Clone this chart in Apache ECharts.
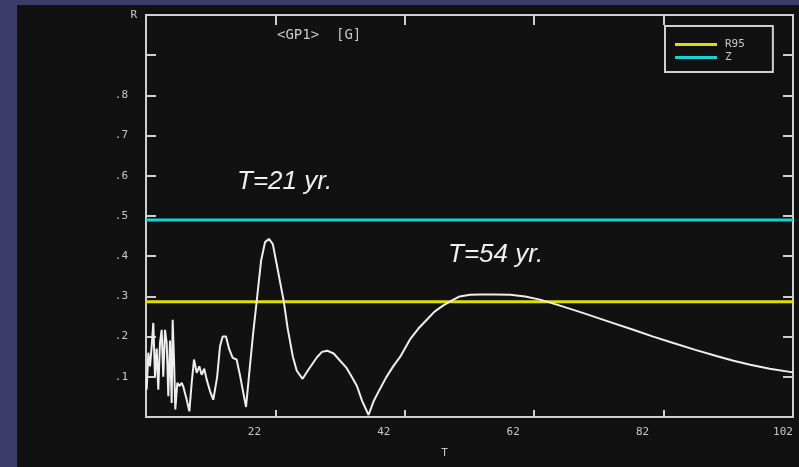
<!DOCTYPE html>
<html><head><meta charset="utf-8">
<script src="https://cdn.jsdelivr.net/npm/echarts@6/dist/echarts.min.js"></script>
<style>
html,body{margin:0;padding:0;width:799px;height:467px;background:#3b3c68;overflow:hidden}
#c{position:absolute;left:17px;top:5px;width:782px;height:462px}
</style></head><body><div id="c"></div>
<script>
// Period T (years) and coherence R of the main curve
const periodT = [2.1,2.36,2.62,2.88,3.13,3.39,3.65,3.9,4.16,4.42,4.67,4.94,5.2,5.45,5.71,5.97,6.12,6.33,6.53,6.84,7.15,7.52,7.77,8.29,8.7,9.06,9.42,9.84,10.24,10.6,11.0,11.38,11.9,12.4,13.0,13.44,13.85,14.36,14.87,15.4,16.0,16.5,17.04,17.46,18.07,18.54,19.1,19.8,20.4,21.0,21.6,22.2,23.3,23.9,24.7,25.3,26.2,27.2,28.4,29.2,30.0,31.0,32.0,33.0,33.8,34.6,35.4,36.4,37.2,38.1,39.1,40.2,41.3,42.8,44.1,45.4,46.6,47.9,49.3,50.5,52.1,53.6,55.9,58.3,60.6,62.9,66.0,69.5,73.4,77.3,80.4,83.5,86.9,90.3,92.8,95.4,98.4,102];
const coherenceR = [0.068,0.16,0.126,0.176,0.234,0.10,0.17,0.068,0.184,0.217,0.10,0.217,0.184,0.052,0.19,0.035,0.242,0.143,0.019,0.085,0.077,0.085,0.075,0.043,0.014,0.085,0.143,0.11,0.126,0.105,0.12,0.093,0.064,0.043,0.10,0.176,0.20,0.20,0.168,0.147,0.143,0.106,0.06,0.025,0.128,0.205,0.287,0.39,0.435,0.443,0.43,0.38,0.287,0.22,0.15,0.115,0.095,0.12,0.148,0.162,0.165,0.158,0.14,0.122,0.10,0.077,0.04,0.005,0.04,0.068,0.098,0.126,0.15,0.193,0.22,0.242,0.262,0.277,0.29,0.300,0.304,0.305,0.305,0.304,0.300,0.292,0.277,0.259,0.238,0.217,0.20,0.184,0.167,0.151,0.14,0.130,0.12,0.111];
const r95Level = 0.287;
const zLevel = 0.49;
const xRange = [2, 102];
const xLabelValues = [22, 42, 62, 82, 102];
const xTickValues = [22, 42, 62, 82];
const yLabelValues = [0.1, 0.2, 0.3, 0.4, 0.5, 0.6, 0.7, 0.8];
const yTickValues = [0.1, 0.2, 0.3, 0.4, 0.5, 0.6, 0.7, 0.8, 0.9];

const frameColor = '#cfcfcf';
const textColor = '#c8c8c8';
const mono = 'DejaVu Sans Mono';

const curveData = periodT.map((t, i) => [t, coherenceR[i]]);
const chart = echarts.init(document.getElementById('c'));
chart.setOption({
  backgroundColor: '#111111',
  animation: false,
  title: {
    text: '<GP1>  [G]', left: 260, top: 23, padding: 0,
    textStyle: { color: textColor, fontFamily: mono, fontSize: 14, fontWeight: 'normal' }
  },
  legend: {
    data: ['R95', 'Z'], orient: 'vertical', left: 648, top: 21,
    padding: [13, 28, 9, 10], itemWidth: 42, itemHeight: 3, itemGap: 2, icon: 'rect',
    borderColor: frameColor, borderWidth: 2,
    textStyle: { color: textColor, fontFamily: mono, fontSize: 11, padding: [0, 0, 0, 3] }
  },
  grid: { left: 129, right: 6, top: 10, bottom: 50, show: true, borderColor: frameColor, borderWidth: 2, backgroundColor: 'transparent' },
  xAxis: [{
    type: 'value', min: xRange[0], max: xRange[1], position: 'bottom',
    axisLine: { show: false, onZero: false }, splitLine: { show: false },
    axisTick: { show: true, inside: true, length: 7, customValues: xTickValues, lineStyle: { color: frameColor, width: 2 } },
    axisLabel: {
      customValues: xLabelValues, color: textColor, fontFamily: mono, fontSize: 11, margin: 10,
      formatter: v => v === 102 ? '{b|' + v + '}' : '{a|' + v + '}',
      rich: { a: { padding: [0, 42, 0, 0], color: textColor, fontFamily: mono, fontSize: 11 },
              b: { padding: [0, 20, 0, 0], color: textColor, fontFamily: mono, fontSize: 11 } }
    },
    name: 'T', nameLocation: 'middle', nameGap: 31,
    nameTextStyle: { color: textColor, fontFamily: mono, fontSize: 11, padding: [0, 50, 0, 0] }
  }, {
    type: 'value', min: xRange[0], max: xRange[1], position: 'top',
    axisLine: { show: false, onZero: false }, splitLine: { show: false }, axisLabel: { show: false },
    axisTick: { show: true, inside: true, length: 10, customValues: xTickValues, lineStyle: { color: frameColor, width: 2 } }
  }],
  yAxis: [{
    type: 'value', min: 0, max: 1, position: 'left',
    axisLine: { show: false, onZero: false }, splitLine: { show: false },
    axisTick: { show: true, inside: true, length: 10, customValues: yTickValues, lineStyle: { color: frameColor, width: 2 } },
    axisLabel: { customValues: yLabelValues, color: textColor, fontFamily: mono, fontSize: 11, margin: 18,
      formatter: v => '.' + Math.round(v * 10) },
    name: 'R', nameLocation: 'end', nameGap: 0,
    nameTextStyle: { color: textColor, fontFamily: mono, fontSize: 11, align: 'right', verticalAlign: 'middle', padding: [0, 9, 0, 0] }
  }, {
    type: 'value', min: 0, max: 1, position: 'right',
    axisLine: { show: false, onZero: false }, splitLine: { show: false }, axisLabel: { show: false },
    axisTick: { show: true, inside: true, length: 10, customValues: yTickValues, lineStyle: { color: frameColor, width: 2 } }
  }],
  series: [
    { name: 'R95', type: 'line', data: [[xRange[0], r95Level], [xRange[1], r95Level]], symbol: 'none',
      itemStyle: { color: '#e0e000' }, lineStyle: { color: '#e0e000', width: 3 } },
    { name: 'Z', type: 'line', data: [[xRange[0], zLevel], [xRange[1], zLevel]], symbol: 'none',
      itemStyle: { color: '#19d3d3' }, lineStyle: { color: '#19d3d3', width: 3 } },
    { name: 'R', type: 'line', data: curveData, symbol: 'none',
      itemStyle: { color: '#eeeeee' }, lineStyle: { color: '#eeeeee', width: 2 } }
  ],
  graphic: [
    { type: 'text', x: 220, y: 177, style: { text: 'T=21 yr.', fill: '#f0f0f0', font: 'italic 26px "Liberation Sans"', verticalAlign: 'middle' } },
    { type: 'text', x: 431, y: 250, style: { text: 'T=54 yr.', fill: '#f0f0f0', font: 'italic 26px "Liberation Sans"', verticalAlign: 'middle' } }
  ]
});
</script></body></html>
